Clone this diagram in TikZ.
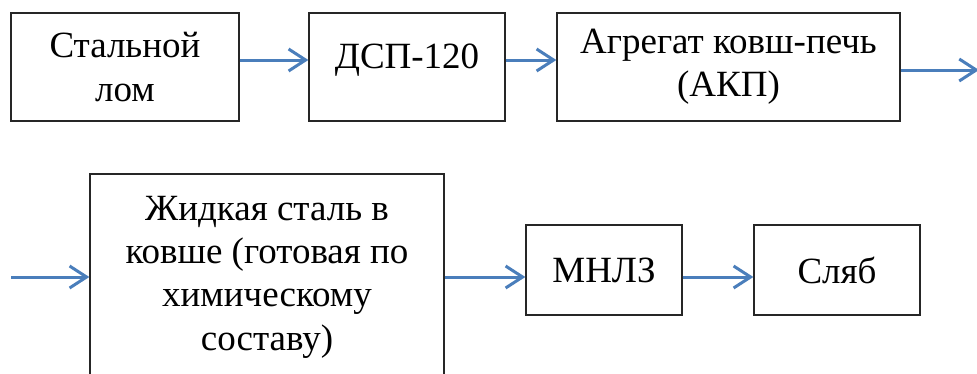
\documentclass[tikz,border=0pt]{standalone}
\usepackage{fontspec}
\setmainfont{Liberation Serif}
\usetikzlibrary{arrows.meta}
\definecolor{flowblue}{RGB}{74,126,187}

\tikzset{
  block/.style={draw=black!85, line width=1.3pt, align=center, inner sep=0pt,
    font=\fontsize{37}{43.3}\selectfont},
  flow/.style={draw=flowblue, line width=3pt,
    -{Straight Barb[length=17pt,width=22pt,line width=3pt]}}
}

\begin{document}
\begin{tikzpicture}[x=1pt,y=-1pt]
\useasboundingbox (0,0) rectangle (977,373);

%top row
\node[block, minimum width=228pt, minimum height=108pt] (scrap) at (125,67) {Стальной\\лом};
\node[block, minimum width=196pt, minimum height=108pt, text height=20pt, text depth=18pt] (eaf) at (407,67) {ДСП-120};
\node[block, minimum width=343pt, minimum height=108pt] (lf) at (728.5,67) {Агрегат ковш-печь\\(АКП)};
\coordinate (out) at (979,70);

%bottom row
\coordinate (in) at (11,277);
\node[block, minimum width=354pt, minimum height=206pt] (steel) at (267,277)
  {Жидкая сталь в\\ковше (готовая по\\химическому\\составу)};
\node[block, minimum width=156pt, minimum height=90pt] (ccm) at (604,270) {МНЛЗ};
\node[block, minimum width=166pt, minimum height=90pt] (slab) at (837,270) {Сляб};

%arrows
\draw[flow] ([yshift=7pt]scrap.east) -- ([yshift=7pt]eaf.west);
\draw[flow] ([yshift=7pt]eaf.east) -- ([yshift=7pt]lf.west);
\draw[flow] ([yshift=-3pt]lf.east) -- (out);
\draw[flow] (in) -- (steel.west);
\draw[flow] (steel.east) -- ([yshift=-7pt]ccm.west);
\draw[flow] ([yshift=-7pt]ccm.east) -- ([yshift=-7pt]slab.west);
\end{tikzpicture}
\end{document}
